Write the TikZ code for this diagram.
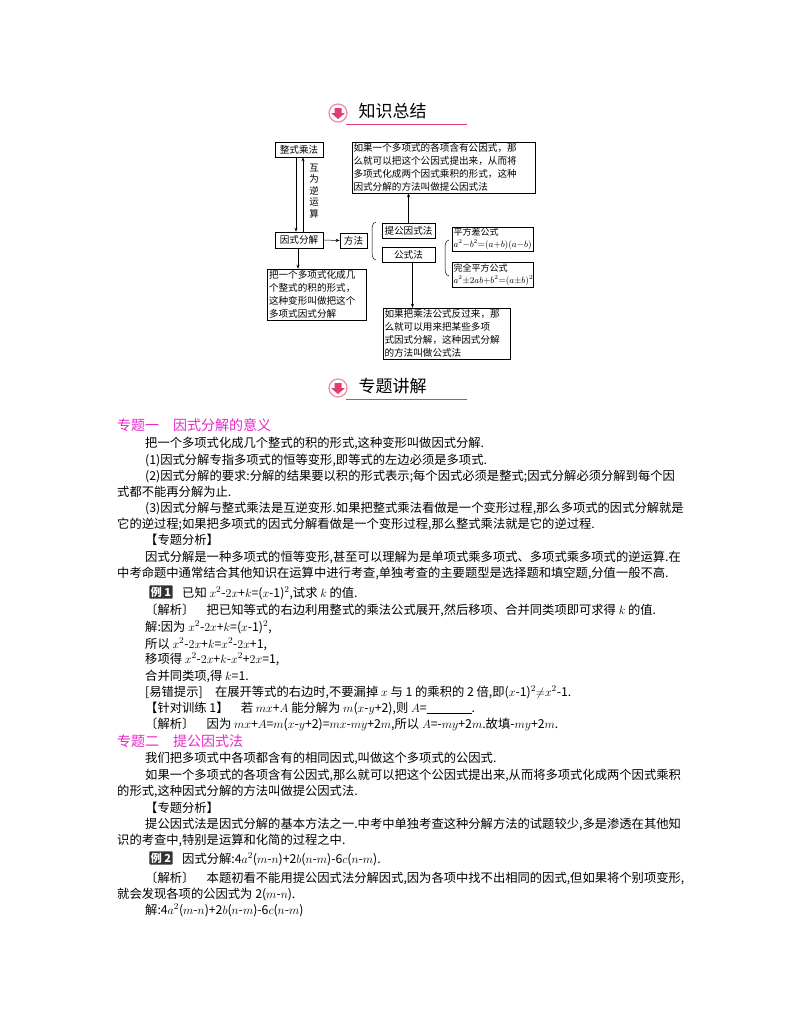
\documentclass[tikz,border=0pt]{standalone}
\usepackage{fontspec}
\setmainfont{Noto Sans CJK SC}
\usetikzlibrary{arrows.meta,decorations.pathreplacing}
\definecolor{mag}{RGB}{230,40,200}
\definecolor{pinkc}{RGB}{225,60,110}
\begin{document}
\begin{tikzpicture}[x=1pt,y=-1pt,
  bx/.style={draw,line width=0.6pt,font=\fontsize{9.6}{13}\selectfont,inner sep=1.5pt,align=left},
  ar/.style={-{Stealth[length=4pt,width=3pt]},line width=0.5pt},
  tl/.style={anchor=base west,inner sep=0pt,font=\fontsize{12.3}{15}\selectfont},
  hd/.style={anchor=base west,inner sep=0pt,font=\fontsize{14}{16}\selectfont,text=mag},
  badge/.style={fill=black!80,text=white,rounded corners=1pt,inner sep=1.5pt,font=\fontsize{11}{12}\selectfont\bfseries}]
\useasboundingbox (0,0) rectangle (800,1028);
% titles
\foreach \yy/\tt [count=\i] in {113/知识总结,388/专题讲解}{
  \node[circle,draw=pinkc!60,line width=1.2pt,minimum size=18pt,inner sep=0pt,fill=white] (ic\i) at (338,\yy) {};
  \fill[pinkc] (334.5,\yy-5) rectangle (341.5,\yy) (331,\yy) -- (345,\yy) -- (338,\yy+6) -- cycle;
  \node[anchor=west,font=\fontsize{17}{18}\selectfont] (tt\i) at (355,\yy-2) {\tt};
  \draw[pinkc,line width=0.8pt] (346,\yy+11) -- (467,\yy+11);
}
% diagram
\node[bx,minimum width=48pt,minimum height=15pt,align=center] (zc) at (299,149.5) {整式乘法};
\node[bx,minimum width=48pt,minimum height=16pt,align=center] (ys) at (299,240) {因式分解};
\node[bx,minimum width=27pt,minimum height=15pt,align=center] (ff) at (353.5,240.5) {方法};
\node[bx,text width=96pt] (lt) at (317,294.5) {把一个多项式化成几\\个整式的积的形式，\\这种变形叫做把这个\\多项式因式分解};
\node[bx,text width=180pt] (tr) at (443.5,167.5) {如果一个多项式的各项含有公因式，那\\么就可以把这个公因式提出来，从而将\\多项式化成两个因式乘积的形式，这种\\因式分解的方法叫做提公因式法};
\node[bx,minimum width=53pt,minimum height=15pt,align=center] (tg) at (408.5,230.5) {提公因式法};
\node[bx,minimum width=53pt,minimum height=15pt,align=center] (gs) at (408.5,254.5) {公式法};
\node[bx,text width=78pt,font=\fontsize{9}{11.5}\selectfont] (pf) at (492.5,239) {平方差公式\\$a^2{-}b^2{=}(a{+}b)(a{-}b)$};
\node[bx,text width=78pt,font=\fontsize{9}{11.5}\selectfont] (wq) at (492.5,275) {完全平方公式\\$a^2{\pm}2ab{+}b^2{=}(a{\pm}b)^2$};
\node[bx,text width=124pt] (bt) at (446.5,333.5) {如果把乘法公式反过来，那\\么就可以用来把某些多项\\式因式分解，这种因式分解\\的方法叫做公式法};
\draw[ar] ([xshift=-3pt]zc.south) -- ([xshift=-3pt]ys.north);
\draw[ar] ([xshift=4pt]ys.north) -- ([xshift=4pt]zc.south);
\node[font=\fontsize{9.5}{11.5}\selectfont,align=center,inner sep=0pt] (hw) at (314,191) {互\\为\\逆\\运\\算};
\draw[ar] (ys.east) -- (ff.west);
\draw[ar] ([xshift=-1pt]ys.south) -- ([xshift=-1pt]ys.south |- lt.north);
\draw[ar] (tg.north) -- (tg.north |- tr.south);
\draw[ar] ([xshift=4pt]gs.south) -- ([xshift=4pt]gs.south |- bt.north);
\coordinate (b1) at (376,222); \coordinate (b2) at (376,260);
\draw[line width=0.5pt] (b1) to[out=190,in=90] (372,232) -- (372,250) to[out=-90,in=170] (b2);
\coordinate (c1) at (449,240); \coordinate (c2) at (449,276);
\draw[line width=0.5pt] (c1) to[out=190,in=90] (445,250) -- (445,266) to[out=-90,in=170] (c2);
% body
\node[hd] at (117,430) {专题一\quad 因式分解的意义};
\node[tl] at (145,447) {把一个多项式化成几个整式的积的形式,这种变形叫做因式分解.};
\node[tl] at (145,464) {(1)因式分解专指多项式的恒等变形,即等式的左边必须是多项式.};
\node[tl] at (145,480) {(2)因式分解的要求:分解的结果要以积的形式表示;每个因式必须是整式;因式分解必须分解到每个因};
\node[tl] at (117,496) {式都不能再分解为止.};
\node[tl] at (145,512) {(3)因式分解与整式乘法是互逆变形.如果把整式乘法看做是一个变形过程,那么多项式的因式分解就是};
\node[tl] at (117,528) {它的逆过程;如果把多项式的因式分解看做是一个变形过程,那么整式乘法就是它的逆过程.};
\node[tl] at (145,544) {【专题分析】};
\node[tl] at (145,561) {因式分解是一种多项式的恒等变形,甚至可以理解为是单项式乘多项式、多项式乘多项式的逆运算.在};
\node[tl] at (117,577) {中考命题中通常结合其他知识在运算中进行考查,单独考查的主要题型是选择题和填空题,分值一般不高.};
\node[badge] (e1) at (161,592) {例 1};
\node[tl] at (182,597) {已知 $x^2$-$2x$+$k$=($x$-1)$^2$,试求 $k$ 的值.};
\node[tl] at (145,614) {〔解析〕\quad 把已知等式的右边利用整式的乘法公式展开,然后移项、合并同类项即可求得 $k$ 的值.};
\node[tl] at (145,631) {解:因为 $x^2$-$2x$+$k$=($x$-1)$^2$,};
\node[tl] at (145,648) {所以 $x^2$-$2x$+$k$=$x^2$-$2x$+1,};
\node[tl] at (145,663) {移项得 $x^2$-$2x$+$k$-$x^2$+$2x$=1,};
\node[tl] at (145,680) {合并同类项,得 $k$=1.};
\node[tl] at (145,696) {[易错提示]\quad 在展开等式的右边时,不要漏掉 $x$ 与 1 的乘积的 2 倍,即($x$-1)$^2{\neq}x^2$-1.};
\node[tl] at (145,712) {【针对训练 1】\quad 若 $mx$+$A$ 能分解为 $m$($x$-$y$+2),则 $A$=\rule[-1.5pt]{45pt}{0.6pt}.};
\node[tl] at (145,728) {〔解析〕\quad 因为 $mx$+$A$=$m$($x$-$y$+2)=$mx$-$my$+2$m$,所以 $A$=-$my$+2$m$.故填-$my$+2$m$.};
\node[hd] at (117,746) {专题二\quad 提公因式法};
\node[tl] at (145,762) {我们把多项式中各项都含有的相同因式,叫做这个多项式的公因式.};
\node[tl] at (145,779) {如果一个多项式的各项含有公因式,那么就可以把这个公因式提出来,从而将多项式化成两个因式乘积};
\node[tl] at (117,795) {的形式,这种因式分解的方法叫做提公因式法.};
\node[tl] at (145,812) {【专题分析】};
\node[tl] at (145,828) {提公因式法是因式分解的基本方法之一.中考中单独考查这种分解方法的试题较少,多是渗透在其他知};
\node[tl] at (117,844) {识的考查中,特别是运算和化简的过程之中.};
\node[badge] (e2) at (161,858) {例 2};
\node[tl] at (182,863) {因式分解:4$a^2$($m$-$n$)+2$b$($n$-$m$)-6$c$($n$-$m$).};
\node[tl] at (145,882) {〔解析〕\quad 本题初看不能用提公因式法分解因式,因为各项中找不出相同的因式,但如果将个别项变形,};
\node[tl] at (117,898) {就会发现各项的公因式为 2($m$-$n$).};
\node[tl] at (145,914) {解:4$a^2$($m$-$n$)+2$b$($n$-$m$)-6$c$($n$-$m$)};
\end{tikzpicture}
\end{document}
